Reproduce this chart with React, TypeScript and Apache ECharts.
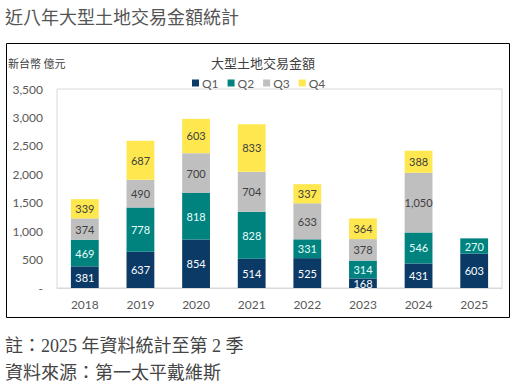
import React, { useEffect, useRef } from "react";
import * as echarts from "echarts";

const categories = ["2018", "2019", "2020", "2021", "2022", "2023", "2024", "2025"];
const q1 = [381, 637, 854, 514, 525, 168, 431, 603];
const q2 = [469, 778, 818, 828, 331, 314, 546, 270];
const q3: (number | null)[] = [374, 490, 700, 704, 633, 378, 1050, null];
const q4: (number | null)[] = [339, 687, 603, 833, 337, 364, 388, null];
const seriesNames = ["Q1", "Q2", "Q3", "Q4"];
const colors = ["#0B3A66", "#00827E", "#BFBFBF", "#FFE84F"];
const labelColors = ["#FFFFFF", "#E6FFFF", "#404040", "#404040"];

const NUM_FONT = "Lato, 'Noto Sans CJK TC', sans-serif";
const CJK_FONT = "'Noto Sans CJK TC', sans-serif";
const SERIF_FONT = "'Liberation Serif', 'Noto Sans CJK TC', serif";

const fmt = (v: number) => v.toLocaleString("en-US");

export default function App() {
  const ref = useRef<HTMLDivElement>(null);
  useEffect(() => {
    if (!ref.current) return;
    const chart = echarts.init(ref.current, undefined, { renderer: "svg" });
    const data = [q1, q2, q3, q4];
    chart.setOption({
      animation: false,
      backgroundColor: "#FFFFFF",
      title: {
        text: "大型土地交易金額",
        left: 258,
        textAlign: "center",
        top: 51,
        textStyle: { fontFamily: CJK_FONT, fontSize: 13, fontWeight: "normal", color: "#404040" },
      },
      legend: {
        data: seriesNames,
        left: 187,
        top: 72,
        itemWidth: 7,
        itemHeight: 7,
        itemGap: 9,
        icon: "rect",
        textStyle: { fontFamily: NUM_FONT, fontSize: 12, color: "#595959", padding: [0, 0, 0, -2] },
      },
      grid: {
        left: 57,
        right: 20,
        top: 89,
        bottom: 97,
        show: true,
        borderColor: "#D9D9D9",
        borderWidth: 1,
      },
      xAxis: {
        type: "category",
        data: categories,
        axisLine: { lineStyle: { color: "#D9D9D9" } },
        axisTick: { show: false },
        axisLabel: { fontFamily: NUM_FONT, fontSize: 12, color: "#595959", margin: 10 },
      },
      yAxis: {
        type: "value",
        min: 0,
        max: 3500,
        interval: 500,
        splitLine: { show: false },
        axisLine: { show: false },
        axisTick: { show: false },
        axisLabel: {
          fontFamily: NUM_FONT,
          fontSize: 12,
          color: "#595959",
          margin: 14,
          formatter: (v: number) => (v === 0 ? "-" : fmt(v)),
        },
      },
      series: seriesNames.map((name, i) => ({
        name,
        type: "bar",
        stack: "total",
        barWidth: "50%",
        data: data[i],
        itemStyle: { color: colors[i] },
        label: {
          show: true,
          position: "inside",
          fontFamily: NUM_FONT,
          fontSize: 11,
          color: labelColors[i],
          formatter: (p: any) => (p.value == null ? "" : fmt(p.value)),
        },
      })),
      graphic: [
        {
          type: "rect",
          shape: { x: 6.5, y: 43.5, width: 503, height: 274 },
          style: { fill: "none", stroke: "#000000", lineWidth: 1 },
          silent: true,
          z: -1,
        },
        {
          type: "text",
          x: 5,
          y: 16,
          style: {
            text: "近八年大型土地交易金額統計",
            fontFamily: CJK_FONT,
            fontSize: 18,
            fill: "#555555",
            verticalAlign: "middle",
          },
        },
        {
          type: "text",
          x: 8,
          y: 63,
          style: {
            text: "新台幣 億元",
            fontFamily: CJK_FONT,
            fontSize: 11,
            fill: "#404040",
            verticalAlign: "middle",
          },
        },
        {
          type: "text",
          x: 5,
          y: 346,
          style: {
            text: "註：2025 年資料統計至第 2 季",
            fontFamily: SERIF_FONT,
            fontSize: 18,
            fill: "#444444",
            verticalAlign: "middle",
          },
        },
        {
          type: "text",
          x: 5,
          y: 373,
          style: {
            text: "資料來源：第一太平戴維斯",
            fontFamily: SERIF_FONT,
            fontSize: 18,
            fill: "#444444",
            verticalAlign: "middle",
          },
        },
      ],
    });
    return () => chart.dispose();
  }, []);
  return (
    <div
      ref={ref}
      style={{ position: "absolute", left: 0, top: 0, width: 522, height: 385 }}
    />
  );
}
